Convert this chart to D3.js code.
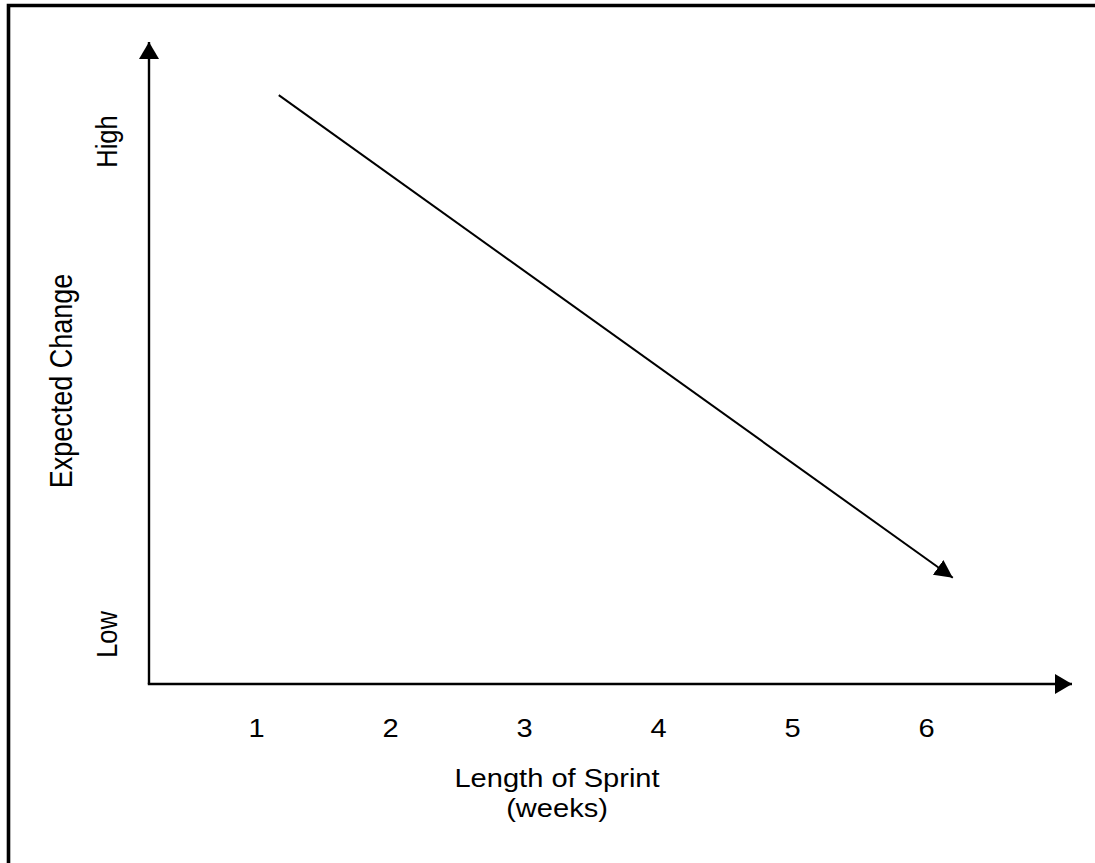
<!DOCTYPE html>
<html>
<head>
<meta charset="utf-8">
<script src="https://cdn.jsdelivr.net/npm/d3@7"></script>
<style>
  html, body { margin: 0; padding: 0; background: #fff; }
  svg { display: block; font-family: "Liberation Sans", Arial, sans-serif; }
</style>
</head>
<body>
<svg id="chart" width="1095" height="863"></svg>
<script>
// ---- data ----
const weeks = [1, 2, 3, 4, 5, 6];
const levelLabels = ["Low", "High"];
const trendWeeks = [1.17, 6.2];
const trendChange = [1.093, 0.114];
const xTitle = ["Length of Sprint", "(weeks)"];
const yTitle = "Expected Change";

// ---- layout ----
const W = 1095, H = 863;
const ox = 149, oy = 684;          // axis origin
const stretch = 1.14;              // horizontal stretch of the reference text

const svg = d3.select("#chart");

const x = d3.scaleLinear().domain([1, 6]).range([256, 926]);
const y = d3.scaleLinear().domain([0, 1]).range([634, 141]);
const yLvl = d3.scalePoint().domain(levelLabels).range([634, 141]);

// frame (only top and left edges visible)
svg.append("path")
  .attr("d", `M8.5,${H} V5.5 H${W}`)
  .attr("fill", "none").attr("stroke", "#000").attr("stroke-width", 3.6);

// arrow markers
const defs = svg.append("defs");
defs.append("marker").attr("id", "axArrow")
  .attr("markerUnits", "userSpaceOnUse")
  .attr("viewBox", "0 -11 18 22").attr("refX", 17).attr("refY", 0)
  .attr("markerWidth", 18).attr("markerHeight", 22).attr("orient", "auto")
  .append("path").attr("d", "M0,-10L17,0L0,10Z").attr("fill", "#000");
defs.append("marker").attr("id", "lnArrow")
  .attr("markerUnits", "userSpaceOnUse")
  .attr("viewBox", "0 -10 19 20").attr("refX", 18).attr("refY", 0)
  .attr("markerWidth", 19).attr("markerHeight", 20).attr("orient", "auto")
  .append("path").attr("d", "M0,-9L18,0L0,9Z").attr("fill", "#000");

// axes lines with arrows
svg.append("path")
  .attr("d", `M${ox},${oy} V42`)
  .attr("stroke", "#000").attr("stroke-width", 2.4).attr("fill", "none")
  .attr("marker-end", "url(#axArrow)");
svg.append("path")
  .attr("d", `M${ox - 1.2},${oy} H1072`)
  .attr("stroke", "#000").attr("stroke-width", 2.4).attr("fill", "none")
  .attr("marker-end", "url(#axArrow)");

// x tick labels
const gx = svg.append("g").attr("transform", `translate(0,${oy})`)
  .call(d3.axisBottom(x).tickValues(weeks).tickSize(0).tickFormat(d3.format("d")));
gx.select(".domain").remove();
gx.selectAll("text")
  .attr("y", 53).attr("dy", null)
  .attr("font-size", 25.5).attr("font-family", "Liberation Sans, Arial, sans-serif")
  .attr("fill", "#000")
  .attr("transform", `scale(${stretch},1)`);

// y level labels
const gy = svg.append("g").attr("transform", `translate(${ox},0)`)
  .call(d3.axisLeft(yLvl).tickSize(0));
gy.select(".domain").remove();
gy.selectAll("text")
  .attr("x", 0).attr("y", 0).attr("dy", null)
  .attr("text-anchor", "middle")
  .attr("font-size", 25.5).attr("font-family", "Liberation Sans, Arial, sans-serif")
  .attr("fill", "#000")
  .attr("transform", `translate(-32,0) scale(${stretch},1) rotate(-90)`);

// axis titles
svg.append("g").selectAll("text").data(xTitle).join("text")
  .attr("transform", (d, i) => `translate(${557},${787 + i * 30}) scale(${stretch},1)`)
  .attr("text-anchor", "middle")
  .attr("font-size", 25.5).attr("fill", "#000")
  .text(d => d);

svg.append("text")
  .attr("transform", `translate(72,381) scale(${stretch},1) rotate(-90)`)
  .attr("text-anchor", "middle")
  .attr("font-size", 27).attr("fill", "#000")
  .text(yTitle);

// trend line
const pts = trendWeeks.map((w, i) => [w, trendChange[i]]);
svg.append("path")
  .datum(pts)
  .attr("d", d3.line().x(d => x(d[0])).y(d => y(d[1])))
  .attr("stroke", "#000").attr("stroke-width", 2).attr("fill", "none")
  .attr("marker-end", "url(#lnArrow)");
</script>
</body>
</html>
